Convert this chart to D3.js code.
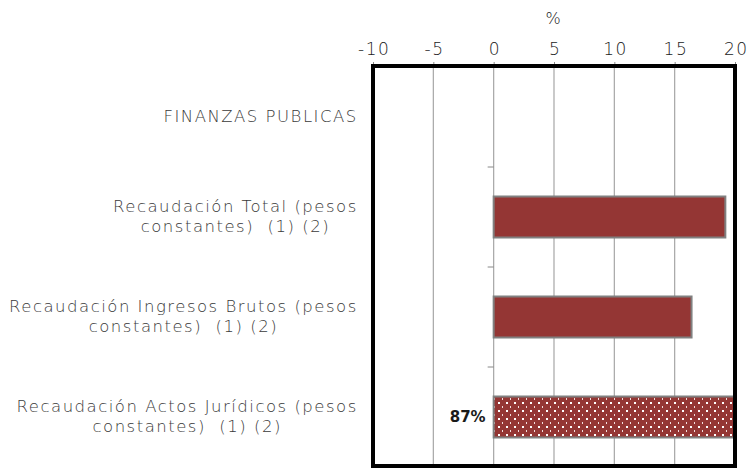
<!DOCTYPE html>
<html>
<head>
<meta charset="utf-8">
<script src="https://cdn.jsdelivr.net/npm/d3@7"></script>
<style>
  body { margin: 0; background: #fff; }
  text { font-family: "DejaVu Sans", sans-serif; white-space: pre; }
</style>
</head>
<body>
<div id="chart"></div>
<script>
// categories (lines split by |), values in %, values above the axis max are clipped and labelled
var categories = [
    "FINANZAS PUBLICAS",
    "Recaudación Total (pesos|constantes)  (1) (2)",
    "Recaudación Ingresos Brutos (pesos|constantes)  (1) (2)",
    "Recaudación Actos Jurídicos (pesos|constantes)  (1) (2)"
];
var values = [null, 19.2, 16.4, 87];
var xTicks = [-10, -5, 0, 5, 10, 15, 20];
var axisTitle = "%";

var svgWidth = 754, svgHeight = 468;
var svg = d3.select("#chart").append("svg").attr("width", svgWidth).attr("height", svgHeight);

var x = d3.scaleLinear().domain([-10, 20]).range([373, 735]);
var y = d3.scaleBand().domain(categories).range([66, 466]).padding(0);

var defs = svg.append("defs");
var pat = defs.append("pattern").attr("id", "dots").attr("patternUnits", "userSpaceOnUse")
    .attr("width", 8).attr("height", 8);
pat.append("rect").attr("width", 8).attr("height", 8).attr("fill", "#943634");
pat.append("rect").attr("x", 2).attr("y", 2).attr("width", 2).attr("height", 2).attr("fill", "#fff");
pat.append("rect").attr("x", 6).attr("y", 6).attr("width", 1).attr("height", 2).attr("fill", "#f3dede");

defs.append("clipPath").attr("id", "plotClip").append("rect")
    .attr("x", x(-10)).attr("y", 66).attr("width", x(20) - x(-10)).attr("height", 400);

// grid lines
svg.append("g").selectAll("line").data(xTicks).enter().append("line")
    .attr("x1", function (d) { return x(d); }).attr("x2", function (d) { return x(d); })
    .attr("y1", 66).attr("y2", 466)
    .attr("stroke", "#a6a6a6").attr("stroke-width", 1.2);

// top axis
var xAxis = svg.append("g").attr("transform", "translate(0,66)")
    .call(d3.axisTop(x).tickValues(xTicks).tickSize(4).tickPadding(7)
        .tickFormat(function (d) { return String(d); }));
xAxis.select(".domain").remove();
xAxis.selectAll("line").attr("stroke", "#888");
xAxis.selectAll("text").attr("font-size", 17).attr("font-weight", 200).attr("fill", "#222")
    .attr("letter-spacing", 1.5).attr("dx", 0.75)
    .style("font-family", "'DejaVu Sans', sans-serif");

svg.append("text").attr("x", x(5) - 1).attr("y", 24).attr("text-anchor", "middle")
    .attr("font-size", 16).attr("font-weight", 200).attr("fill", "#222").text(axisTitle);

// category ticks at band edges
svg.append("g").selectAll("line").data(categories.slice(1)).enter().append("line")
    .attr("x1", x(0) - 6).attr("x2", x(0))
    .attr("y1", function (d) { return y(d) + 1; }).attr("y2", function (d) { return y(d) + 1; })
    .attr("stroke", "#888").attr("stroke-width", 1);

// bars
var barH = y.bandwidth() * 0.41;
var bars = svg.append("g").attr("clip-path", "url(#plotClip)");
categories.forEach(function (c, i) {
    if (values[i] === null) return;
    var v = values[i];
    var over = v > x.domain()[1];
    var end = over ? x.domain()[1] + 1 : v;
    bars.append("rect")
        .attr("x", x(0)).attr("y", y(c) + (y.bandwidth() - barH) / 2 + 1)
        .attr("width", x(end) - x(0)).attr("height", barH)
        .attr("fill", over ? "url(#dots)" : "#943634")
        .attr("stroke", "#808080").attr("stroke-width", 2);
    if (over) {
        svg.append("text").attr("x", x(0) - 8).attr("y", y(c) + y.bandwidth() / 2 + 6)
            .attr("text-anchor", "end").attr("font-size", 15).attr("font-weight", 700)
            .attr("fill", "#1a1a1a").text(v + "%");
    }
});

// frame
svg.append("rect").attr("x", x(-10)).attr("y", 66).attr("width", x(20) - x(-10)).attr("height", 400)
    .attr("fill", "none").attr("stroke", "#000").attr("stroke-width", 4);

// category labels: right block, lines centred on each other
var labels = svg.append("g");
var ls = 1.5, fs = 16.5;
categories.forEach(function (c) {
    var lines = c.split("|");
    var cy = y(c) + y.bandwidth() / 2 + 1;
    var g = labels.append("g");
    var t0 = g.append("text").attr("font-size", fs).attr("font-weight", 200).attr("fill", "#3a3a3a")
        .attr("letter-spacing", ls).text(lines[0]);
    var w = t0.node().getComputedTextLength();
    var cx = 357 - w / 2;
    var top = cy - (lines.length - 1) * 10 + 5;
    lines.forEach(function (l, j) {
        var t = j === 0 ? t0 : g.append("text").attr("font-size", fs).attr("font-weight", 200)
            .attr("fill", "#3a3a3a").attr("letter-spacing", ls).text(l);
        t.attr("x", cx + ls / 2).attr("y", top + j * 20).attr("text-anchor", "middle");
    });
});
</script>
</body>
</html>
